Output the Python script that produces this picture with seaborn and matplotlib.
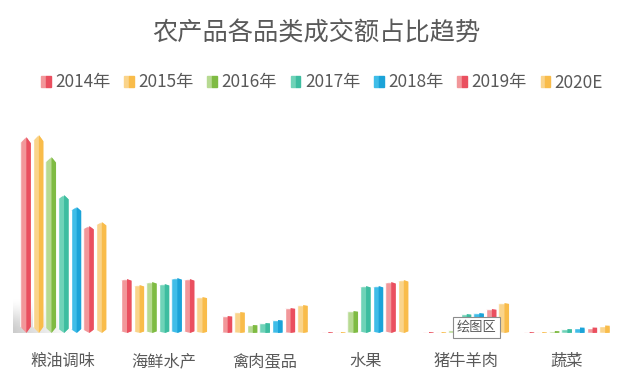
import numpy as np
import pandas as pd
import matplotlib
matplotlib.use("Agg")
import matplotlib.pyplot as plt
from matplotlib.patches import Patch, Polygon
from matplotlib.legend_handler import HandlerTuple
import seaborn as sns

sns.set_theme(style="white")
plt.rcParams['font.family'] = ['Noto Sans CJK SC', 'DejaVu Sans']

categories = ["粮油调味", "海鲜水产", "禽肉蛋品", "水果", "猪牛羊肉", "蔬菜"]
years = ["2014年", "2015年", "2016年", "2017年", "2018年", "2019年", "2020E"]

# bar heights (no value axis in the original)
y2014 = [196, 54, 17, 1, 1, 1]
y2015 = [198, 48, 21, 1, 1, 1]
y2016 = [176, 51, 8, 22, 3, 2]
y2017 = [138, 49, 10, 47, 19, 4]
y2018 = [126, 55, 13, 47, 20, 5.5]
y2019 = [107, 54, 25, 51, 24, 5.5]
y2020 = [111, 36, 28, 53, 30, 7.5]
series = [y2014, y2015, y2016, y2017, y2018, y2019, y2020]

light = ["#F2979A", "#FAD48B", "#B7DA92", "#6FD3B8", "#3FBDE8", "#F2979A", "#FAD48B"]
dark = ["#EA4F5F", "#F9BC4A", "#7FBB43", "#3DBDA0", "#1BA3D8", "#EA4F5F", "#F9BC4A"]
text_color = "#595959"

df = pd.DataFrame({
    "category": categories * len(years),
    "year": np.repeat(years, len(categories)),
    "value": np.concatenate(series),
})

fig = plt.figure(figsize=(6.41, 3.84), dpi=100)
ax = fig.add_axes([13 / 641, 1 - 333 / 384, 604 / 641, 213 / 384])

sns.barplot(data=df, x="category", y="value", hue="year", palette=light, saturation=1,
            width=0.875, gap=0.16, legend=False, ax=ax, zorder=3)

# soft shadow behind the first group, strongest at the lower left
fade_x = np.linspace(0, 1, 120)
fade_y = np.linspace(1, 0, 80)[:, None]
shadow = np.zeros((80, 120, 4))
shadow[..., :3] = 0.55
shadow[..., 3] = 0.45 * (fade_y ** 2 * (3 - 2 * fade_y)) * ((1 - fade_x) ** 1.2)[None, :]
ax.imshow(shadow, extent=(-0.5, 0.1, 0, 36), origin="lower", aspect="auto", zorder=1)

# turn the flat bars into two-tone prisms
for container, tone in zip(ax.containers, dark):
    for bar in container:
        x0, w, h = bar.get_x(), bar.get_width(), bar.get_height()
        xc = x0 + w * 0.57
        cap = max(h * 0.032, 0.2)
        shape = [(x0, cap), (xc, 0), (x0 + w, cap), (x0 + w, h - cap), (xc, h), (x0, h - cap)]
        bar.set_clip_path(Polygon(shape, transform=ax.transData))
        ax.add_patch(Polygon([(xc, 0), (x0 + w, cap), (x0 + w, h - cap), (xc, h)],
                             facecolor=tone, edgecolor="none", zorder=4))

ax.set_xlim(-0.5, 5.5)
ax.set_ylim(0, 213)
ax.set(xlabel=None, ylabel=None)
ax.set_yticks([])
ax.tick_params(axis="x", length=0, pad=14.5, labelsize=11.7, labelcolor=text_color)
sns.despine(ax=ax, left=True, bottom=True)

fig.text(316.5 / 641, 1 - 33.5 / 384, "农产品各品类成交额占比趋势", ha="center", va="center",
         fontsize=18.2, color=text_color)

handles = [(Patch(color=a), Patch(color=b)) for a, b in zip(light, dark)]
fig.legend(handles, years, ncol=7, loc="center", bbox_to_anchor=(322 / 641, 1 - 82.5 / 384),
           frameon=False, fontsize=12.4, labelcolor=text_color, handlelength=0.56,
           handleheight=0.6, handletextpad=0.26, columnspacing=0.8,
           handler_map={tuple: HandlerTuple(ndivide=2, pad=0)})

# chart-tool tooltip left in the screenshot
fig.text(476.5 / 641, 1 - 327.5 / 384, "绘图区", ha="center", va="center", fontsize=9.5,
         color=text_color, zorder=10,
         bbox=dict(boxstyle="square,pad=0.28", facecolor="white", edgecolor="#8c8c8c", linewidth=0.8))

fig.savefig("out.png", dpi=100)
